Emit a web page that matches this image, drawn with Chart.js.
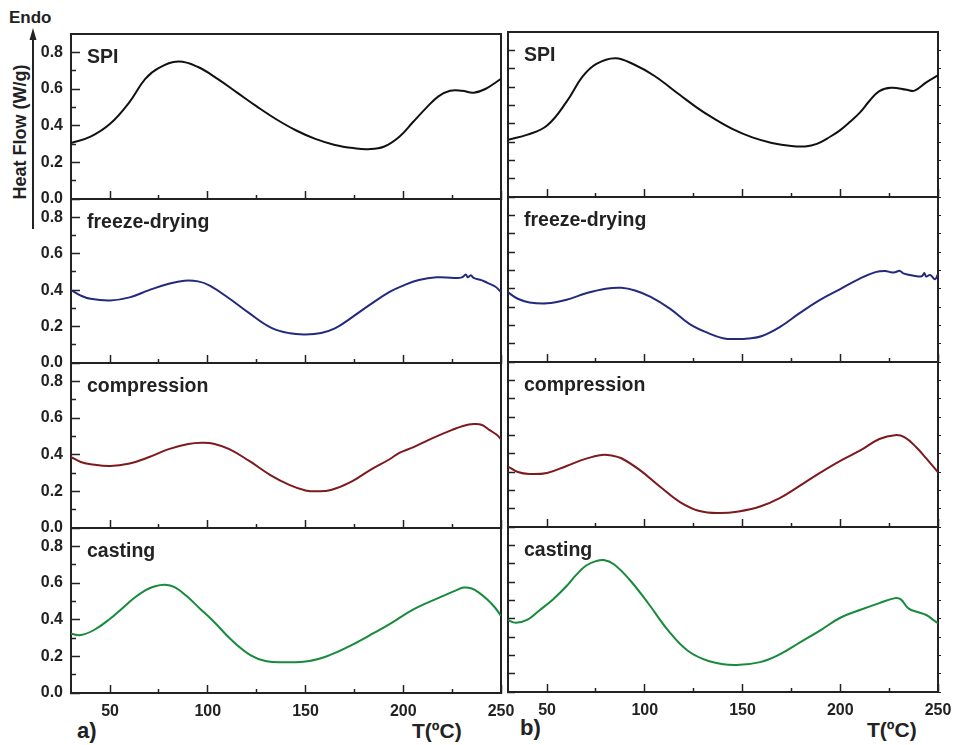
<!DOCTYPE html>
<html>
<head>
<meta charset="utf-8">
<script src="https://cdn.jsdelivr.net/npm/chart.js@4.4.1/dist/chart.umd.min.js"></script>
<style>
  body { margin: 0; background: #fff; width: 958px; height: 745px; overflow: hidden; position: relative;
         font-family: "Liberation Sans", Arial, sans-serif; font-weight: bold; color: #222; }
  canvas { position: absolute; }
  .txt { position: absolute; white-space: nowrap; line-height: 1; }
</style>
</head>
<body>
<div class="txt" style="left:9px; top:9px; font-size:17px;">Endo</div>
<div class="txt" style="left:-80px; top:123px; width:200px; text-align:center; font-size:18px; transform:rotate(-90deg);">Heat Flow (W/g)</div>
<svg style="position:absolute; left:0; top:0;" width="60" height="240">
  <line x1="33" y1="229" x2="33" y2="38" stroke="#222" stroke-width="2"/>
  <polygon points="29.5,40 33,28 36.5,40" fill="#222"/>
</svg>
<div class="txt" style="left:77px; top:720px; font-size:22px;">a)</div>
<div class="txt" style="left:520px; top:717px; font-size:22px;">b)</div>
<div class="txt" style="left:412px; top:720px; font-size:21px;">T(ºC)</div>
<div class="txt" style="left:867px; top:719px; font-size:21px;">T(ºC)</div>

<script>
const panelNames = ['SPI', 'freeze-drying', 'compression', 'casting'];
const lineColors = ['#111111', '#232a7e', '#7c1a1e', '#178a3b'];

const xTicks = [50, 100, 150, 200, 250];
const xMinorTicks = [75, 125, 175, 225];
const yTicks = [0, 0.2, 0.4, 0.6, 0.8];
const yMinorTicks = [0.1, 0.3, 0.5, 0.7];

// a) column
const spiA_T  = [30, 40, 50, 60, 68, 75, 85, 95, 105, 115, 125, 135, 145, 155, 165, 175, 182, 190, 198, 205, 212, 218, 224, 230, 236, 242, 250];
const spiA_HF = [0.305, 0.34, 0.41, 0.53, 0.655, 0.715, 0.75, 0.72, 0.655, 0.58, 0.505, 0.435, 0.375, 0.328, 0.295, 0.277, 0.272, 0.285, 0.34, 0.42, 0.5, 0.56, 0.59, 0.59, 0.58, 0.6, 0.655];

const freezeA_T  = [30, 35, 40, 50, 60, 70, 80, 88, 95, 101, 111, 121, 132, 142, 150, 158, 165, 173, 183, 193, 200, 208, 217, 226, 230, 232, 233, 234.5, 236, 240, 243, 247, 250];
const freezeA_HF = [0.40, 0.37, 0.352, 0.343, 0.36, 0.40, 0.435, 0.452, 0.448, 0.425, 0.354, 0.275, 0.196, 0.163, 0.157, 0.165, 0.19, 0.245, 0.32, 0.39, 0.425, 0.455, 0.47, 0.467, 0.47, 0.485, 0.47, 0.482, 0.467, 0.455, 0.44, 0.42, 0.39];

const compA_T  = [30, 35, 40, 50, 60, 70, 80, 90, 97, 103, 111, 121, 132, 142, 150, 156, 163, 173, 183, 193, 198, 205, 215, 225, 231, 236, 240, 244, 248, 250];
const compA_HF = [0.387, 0.36, 0.348, 0.338, 0.352, 0.387, 0.43, 0.458, 0.465, 0.46, 0.43, 0.367, 0.289, 0.234, 0.205, 0.2, 0.207, 0.25, 0.316, 0.375, 0.41, 0.44, 0.49, 0.535, 0.558, 0.567, 0.563, 0.535, 0.507, 0.483];

const castA_T  = [30, 35, 42, 50, 56, 62, 68, 73, 78, 83, 89, 96, 103, 112, 122, 130, 140, 152, 162, 172, 183, 193, 205, 219, 227, 231, 235, 239, 243, 247, 250];
const castA_HF = [0.323, 0.316, 0.345, 0.405, 0.46, 0.515, 0.56, 0.582, 0.59, 0.578, 0.53, 0.46, 0.39, 0.29, 0.205, 0.173, 0.168, 0.175, 0.205, 0.253, 0.316, 0.376, 0.455, 0.523, 0.56, 0.575, 0.57, 0.545, 0.51, 0.465, 0.42];

// b) column
const spiB_T  = [30, 40, 50, 60, 68, 75, 85, 95, 105, 118, 127, 135, 145, 155, 165, 175, 182, 188, 195, 200, 205, 210, 215, 220, 226, 234, 238, 244, 250];
const spiB_HF = [0.312, 0.34, 0.39, 0.52, 0.655, 0.725, 0.757, 0.72, 0.66, 0.556, 0.485, 0.43, 0.37, 0.325, 0.295, 0.278, 0.276, 0.29, 0.33, 0.365, 0.41, 0.46, 0.525, 0.578, 0.596, 0.585, 0.58, 0.625, 0.663];

const freezeB_T  = [30, 35, 41, 50, 60, 70, 80, 88, 95, 103, 113, 123, 133, 140, 146, 153, 160, 169, 179, 189, 200, 210, 218, 223, 226, 228, 230.5, 232, 235, 240, 242, 243, 244, 246, 248.5, 250];
const freezeB_HF = [0.38, 0.345, 0.325, 0.32, 0.34, 0.375, 0.40, 0.405, 0.39, 0.355, 0.29, 0.207, 0.155, 0.13, 0.125, 0.128, 0.142, 0.19, 0.265, 0.335, 0.398, 0.455, 0.49, 0.497, 0.489, 0.49, 0.497, 0.485, 0.476, 0.466, 0.47, 0.485, 0.466, 0.475, 0.452, 0.48];

const compB_T  = [30, 35, 41, 50, 60, 70, 78, 83, 88, 97.5, 108, 118, 128, 138, 148, 159, 169, 179, 190, 200, 210, 220, 228, 233, 239, 244, 250];
const compB_HF = [0.33, 0.3, 0.289, 0.295, 0.333, 0.373, 0.393, 0.39, 0.375, 0.31, 0.218, 0.136, 0.087, 0.076, 0.085, 0.112, 0.158, 0.223, 0.298, 0.361, 0.416, 0.48, 0.501, 0.489, 0.434, 0.374, 0.298];

const castB_T  = [30, 34, 40, 46, 53, 60, 65, 70, 75, 79, 84, 92, 102, 112, 122, 133, 146, 159, 169, 179, 190, 200, 210, 220, 228, 231, 235, 240, 244, 248, 250];
const castB_HF = [0.392, 0.378, 0.395, 0.445, 0.505, 0.578, 0.64, 0.69, 0.714, 0.72, 0.698, 0.615, 0.48, 0.335, 0.225, 0.168, 0.147, 0.163, 0.205, 0.268, 0.338, 0.405, 0.447, 0.485, 0.512, 0.505, 0.455, 0.435, 0.42, 0.39, 0.375];

const leftTops = [34, 199, 363, 528, 693];
const rightTops = [32, 197, 362, 527, 692];
const ink = '#222';
const fontFamily = '"Liberation Sans", Arial, sans-serif';

const panelLabel = {
    id: 'panelLabel',
    afterDraw(chart, args, opts) {
        const { ctx, chartArea } = chart;
        ctx.save();
        ctx.font = 'bold 19.5px ' + fontFamily;
        ctx.fillStyle = ink;
        ctx.fillText(opts.text, chartArea.left + 16, chartArea.top + 29);
        ctx.restore();
    }
};

const setTicks = (list) => (scale) => { scale.ticks = list.map(v => ({ value: v })); };

// fixed axis size, and no extra room asked for overhanging labels
const fixSize = (w, h) => (scale) => {
    if (w !== null) scale.width = w;
    if (h !== null) scale.height = h;
    scale.paddingLeft = scale.paddingRight = scale.paddingTop = scale.paddingBottom = 0;
};

function makePanel(side, i, T, HF) {
    const a = side === 'a';
    const tops = a ? leftTops : rightTops;
    const last = i === 3;
    const xh = last ? 34 : 12;
    const canvasLeft = a ? 0 : 480;
    const w = a ? 520 : 476;
    const h = 10 + (tops[i + 1] - tops[i]) + xh;

    const cv = document.createElement('canvas');
    cv.width = w;
    cv.height = h;
    cv.style.left = canvasLeft + 'px';
    cv.style.top = (tops[i] - 10) + 'px';
    document.body.appendChild(cv);

    new Chart(cv, {
        type: 'line',
        data: {
            datasets: [{
                data: T.map((t, k) => ({ x: t, y: HF[k] })),
                borderColor: lineColors[i],
                borderWidth: 2,
                pointRadius: 0,
                tension: 0.4,
                xAxisID: 'x',
                yAxisID: 'y'
            }]
        },
        options: {
            responsive: false,
            animation: false,
            devicePixelRatio: 1,
            layout: { padding: { left: 0, right: a ? 19 : 18, top: 10, bottom: 0 } },
            plugins: {
                legend: { display: false },
                tooltip: { enabled: false },
                panelLabel: { text: panelNames[i] }
            },
            scales: {
                x: {
                    type: 'linear', position: 'bottom', weight: 1, min: 30, max: 250,
                    afterBuildTicks: setTicks(xTicks),
                    afterFit: fixSize(null, xh),
                    ticks: { display: last, padding: 17, autoSkip: false, maxRotation: 0, color: ink,
                             font: { family: fontFamily, size: 16, weight: 'bold' } },
                    grid: { drawOnChartArea: false, tickLength: -8, tickWidth: 1.5, tickColor: ink },
                    border: { color: ink, width: 2 }
                },
                x2: {
                    type: 'linear', position: 'bottom', weight: 0, min: 30, max: 250,
                    afterBuildTicks: setTicks(xMinorTicks),
                    afterFit: fixSize(null, 0),
                    ticks: { display: false },
                    grid: { drawOnChartArea: false, tickLength: -4, tickWidth: 1.5, tickColor: ink },
                    border: { display: false }
                },
                xTop: {
                    type: 'linear', position: 'top', min: 30, max: 250,
                    afterFit: fixSize(null, 0),
                    ticks: { display: false },
                    grid: { drawOnChartArea: false, drawTicks: false },
                    border: { color: ink, width: 2 }
                },
                y: {
                    type: 'linear', position: 'left', weight: 1, min: 0, max: 0.9,
                    afterBuildTicks: setTicks(yTicks),
                    afterFit: fixSize(a ? 71 : 28, null),
                    ticks: { display: a, padding: 17, color: ink, callback: v => v.toFixed(1),
                             font: { family: fontFamily, size: 16, weight: 'bold' } },
                    grid: { drawOnChartArea: false, tickLength: a ? -9 : -7, tickWidth: 1.5, tickColor: ink },
                    border: { color: ink, width: 2 }
                },
                y2: {
                    type: 'linear', position: 'left', weight: 0, min: 0, max: 0.9,
                    afterBuildTicks: setTicks(yMinorTicks),
                    afterFit: fixSize(0, null),
                    ticks: { display: false },
                    grid: { drawOnChartArea: false, tickLength: a ? -5 : -7, tickWidth: 1.5, tickColor: ink },
                    border: { display: false }
                },
                yRight: {
                    type: 'linear', position: 'right', min: 0, max: 0.9,
                    afterBuildTicks: setTicks(yTicks.concat(yMinorTicks)),
                    afterFit: fixSize(0, null),
                    ticks: { display: false },
                    grid: { drawOnChartArea: false, drawTicks: !a, tickLength: 3, tickWidth: 1, tickColor: ink },
                    border: { color: ink, width: 2 }
                }
            }
        },
        plugins: [panelLabel]
    });
}

makePanel('a', 0, spiA_T, spiA_HF);
makePanel('a', 1, freezeA_T, freezeA_HF);
makePanel('a', 2, compA_T, compA_HF);
makePanel('a', 3, castA_T, castA_HF);
makePanel('b', 0, spiB_T, spiB_HF);
makePanel('b', 1, freezeB_T, freezeB_HF);
makePanel('b', 2, compB_T, compB_HF);
makePanel('b', 3, castB_T, castB_HF);
</script>
</body>
</html>
